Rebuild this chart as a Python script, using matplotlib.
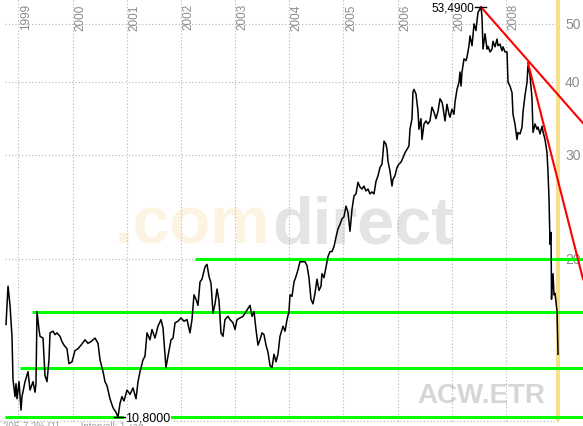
import matplotlib
matplotlib.use("Agg")
import matplotlib.pyplot as plt

plt.rcParams['font.family'] = ['Liberation Sans', 'DejaVu Sans']

# price path (decimal year, price in EUR)
dates = [
    1998.773, 1998.810, 1998.847, 1998.883, 1998.902, 1998.939, 1998.957, 1998.976,
    1999.013, 1999.050, 1999.068, 1999.124, 1999.179, 1999.216, 1999.271, 1999.308,
    1999.326, 1999.345, 1999.382, 1999.400, 1999.456, 1999.492, 1999.529, 1999.566,
    1999.585, 1999.640, 1999.677, 1999.714, 1999.769, 1999.806, 1999.843, 1999.898,
    1999.935, 1999.991, 2000.046, 2000.101, 2000.157, 2000.231, 2000.286, 2000.341,
    2000.415, 2000.471, 2000.508, 2000.563, 2000.600, 2000.637, 2000.692, 2000.747,
    2000.803, 2000.840, 2000.877, 2000.913, 2000.950, 2001.006, 2001.061, 2001.116,
    2001.172, 2001.209, 2001.246, 2001.301, 2001.338, 2001.375, 2001.430, 2001.467,
    2001.522, 2001.578, 2001.633, 2001.670, 2001.725, 2001.762, 2001.818, 2001.855,
    2001.892, 2001.947, 2002.002, 2002.058, 2002.113, 2002.168, 2002.205, 2002.242,
    2002.279, 2002.316, 2002.353, 2002.390, 2002.445, 2002.482, 2002.519, 2002.556,
    2002.593, 2002.630, 2002.667, 2002.704, 2002.740, 2002.777, 2002.814, 2002.870,
    2002.907, 2002.962, 2002.999, 2003.036, 2003.091, 2003.146, 2003.202, 2003.239,
    2003.276, 2003.313, 2003.350, 2003.386, 2003.423, 2003.460, 2003.497, 2003.534,
    2003.571, 2003.608, 2003.645, 2003.682, 2003.719, 2003.756, 2003.792, 2003.829,
    2003.885, 2003.922, 2003.959, 2003.995, 2004.014, 2004.051, 2004.088, 2004.125,
    2004.162, 2004.198, 2004.254, 2004.291, 2004.328, 2004.364, 2004.401, 2004.438,
    2004.475, 2004.512, 2004.549, 2004.586, 2004.604, 2004.641, 2004.678, 2004.715,
    2004.752, 2004.789, 2004.826, 2004.863, 2004.899, 2004.936, 2004.973, 2005.010,
    2005.047, 2005.084, 2005.121, 2005.158, 2005.195, 2005.232, 2005.268, 2005.305,
    2005.342, 2005.379, 2005.416, 2005.453, 2005.490, 2005.527, 2005.564, 2005.601,
    2005.638, 2005.675, 2005.712, 2005.749, 2005.786, 2005.804, 2005.822, 2005.859,
    2005.896, 2005.914, 2005.951, 2005.988, 2006.025, 2006.062, 2006.099, 2006.136,
    2006.173, 2006.209, 2006.228, 2006.265, 2006.283, 2006.302, 2006.339, 2006.376,
    2006.394, 2006.431, 2006.450, 2006.487, 2006.524, 2006.560, 2006.597, 2006.634,
    2006.671, 2006.708, 2006.745, 2006.782, 2006.819, 2006.837, 2006.874, 2006.911,
    2006.948, 2006.967, 2007.003, 2007.040, 2007.059, 2007.096, 2007.133, 2007.151,
    2007.170, 2007.188, 2007.225, 2007.262, 2007.280, 2007.317, 2007.336, 2007.373,
    2007.410, 2007.446, 2007.483, 2007.520, 2007.539, 2007.557, 2007.576, 2007.613,
    2007.650, 2007.668, 2007.705, 2007.742, 2007.760, 2007.797, 2007.834, 2007.852,
    2007.889, 2007.926, 2007.945, 2007.982, 2008.019, 2008.037, 2008.074, 2008.111,
    2008.129, 2008.166, 2008.203, 2008.222, 2008.259, 2008.296, 2008.314, 2008.351,
    2008.388, 2008.406, 2008.443, 2008.480, 2008.499, 2008.536, 2008.573, 2008.591,
    2008.628, 2008.665, 2008.683, 2008.720, 2008.757, 2008.775, 2008.794, 2008.812,
    2008.831, 2008.840, 2008.849, 2008.868, 2008.886, 2008.905, 2008.923, 2008.942,
    2008.960,
]
prices = [
    15.5, 18.0, 16.7, 14.8, 12.5, 11.7, 12.3, 11.6,
    12.4, 11.1, 11.7, 12.4, 12.9, 12.0, 12.4, 11.9,
    12.3, 16.3, 15.2, 14.8, 14.7, 12.7, 12.4, 13.5,
    15.0, 15.1, 14.9, 15.0, 14.8, 14.5, 14.3, 14.1,
    13.3, 13.4, 14.0, 14.1, 14.3, 14.6, 14.4, 14.5,
    14.7, 14.4, 13.5, 12.9, 12.4, 12.2, 11.6, 11.2,
    11.0, 10.8, 11.4, 11.7, 11.5, 12.0, 11.8, 12.1,
    11.6, 12.4, 12.9, 13.5, 13.7, 15.0, 14.6, 15.2,
    14.7, 15.4, 15.8, 15.3, 13.1, 13.7, 14.6, 14.7,
    15.6, 15.7, 15.9, 15.7, 15.8, 15.0, 15.8, 17.4,
    17.1, 16.7, 18.3, 18.5, 19.4, 19.6, 18.7, 18.2,
    16.2, 16.8, 17.8, 17.0, 15.0, 14.8, 15.8, 16.0,
    15.8, 15.6, 15.2, 15.8, 15.9, 16.0, 16.3, 16.5,
    16.7, 16.0, 16.3, 15.2, 14.3, 14.6, 15.0, 14.9,
    14.3, 13.9, 13.2, 13.1, 13.8, 13.4, 13.8, 14.8,
    15.4, 15.1, 15.8, 16.3, 17.4, 17.3, 18.3, 18.7,
    19.2, 19.8, 19.8, 19.8, 19.5, 18.6, 17.1, 16.8,
    17.5, 18.5, 17.7, 18.0, 18.9, 18.6, 19.4, 20.2,
    20.6, 20.6, 21.0, 21.8, 22.5, 22.9, 23.4, 23.6,
    24.6, 24.0, 22.3, 24.3, 25.6, 25.8, 27.0, 26.5,
    26.3, 26.6, 26.1, 26.3, 25.8, 26.0, 25.8, 27.1,
    27.7, 28.6, 29.0, 31.7, 31.3, 30.7, 29.3, 28.2,
    26.6, 27.3, 27.7, 28.6, 29.0, 29.2, 29.7, 30.3,
    30.7, 31.1, 33.2, 34.6, 38.4, 38.8, 38.1, 35.6,
    33.2, 34.6, 31.9, 33.9, 34.3, 33.9, 34.3, 36.2,
    35.5, 34.6, 35.6, 37.4, 36.9, 36.2, 34.3, 36.6,
    35.2, 34.8, 35.9, 35.2, 36.9, 38.8, 39.9, 41.5,
    39.3, 41.5, 43.7, 43.4, 44.0, 46.0, 47.8, 46.0,
    50.1, 48.8, 52.4, 53.1, 53.49, 51.5, 45.4, 48.2,
    45.4, 45.9, 44.9, 45.4, 46.8, 45.8, 47.2, 46.0,
    46.3, 45.1, 45.8, 44.9, 44.9, 39.9, 39.3, 38.3,
    35.2, 33.9, 31.9, 32.8, 32.6, 33.5, 35.5, 37.9,
    39.9, 42.6, 41.0, 37.4, 32.8, 33.9, 33.2, 33.5,
    32.6, 33.6, 32.9, 31.9, 30.3, 28.1, 25.3, 21.2,
    22.2, 17.1, 18.0, 18.9, 17.4, 17.5, 16.9, 16.3,
    13.8,
]

years = [1999, 2000, 2001, 2002, 2003, 2004, 2005, 2006, 2007, 2008]
y_ticks = [20, 30, 40, 50]

# support lines: level and start date
support_levels = [20.0, 16.3, 13.1, 10.8]
support_starts = [2002.26, 1999.25, 1999.03, 1998.75]

# trend lines: (start date, start price, end date, end price)
trend_lines = [
    (2007.539, 53.49, 2009.421, 34.0),
    (2008.406, 43.0, 2009.421, 18.5),
]

high_val = 53.49
low_val = 10.80
high_date = 2007.539
low_date = 2000.840

x0, x1 = 1998.662, 2009.421
y0, y1 = 10.43, 55.2
grid_right = 2008.92
grid_bottom = 10.63

fig = plt.figure(figsize=(5.83, 4.27), dpi=100)
ax = fig.add_axes([0, 0, 1, 1])
ax.set_yscale('log')
ax.set_xlim(x0, x1)
ax.set_ylim(y0, y1)
ax.axis('off')

grid_kw = dict(color='#b4b4b4', lw=0.8, linestyle=(0, (1, 2)), zorder=1)

# watermark
ax.text(2003.65, 21.36, '.com', fontsize=48, fontweight='bold',
        color='#fdf3e3', ha='right', va='baseline', zorder=0)
ax.text(2003.68, 21.36, 'direct', fontsize=48, fontweight='bold',
        color='#e4e4e4', ha='left', va='baseline', zorder=0)
ax.text(2008.72, 11.45, 'ACW.ETR', fontsize=20, fontweight='bold',
        color='#d6d6d6', ha='right', va='baseline', zorder=0)

# grid
ax.vlines(years, grid_bottom, y1, **grid_kw)
ax.hlines(y_ticks, 1998.75, grid_right, **grid_kw)
ax.hlines(grid_bottom, x0, grid_right + 0.07, **grid_kw)
ax.fill_between([2008.925, 2008.995], grid_bottom, y1, color='#f6e08c',
                lw=0, zorder=1)

for yr in years:
    ax.text(yr + 0.03, 54.3, str(yr), rotation=90, fontsize=8.5,
            color='#8a8a8a', ha='left', va='top', zorder=2)
for t in y_ticks:
    ax.text(2009.09, t, str(t), fontsize=10, color='#8a8a8a',
            ha='left', va='center', zorder=2)

# support lines
for lvl, st in zip(support_levels, support_starts):
    ax.plot([st, x1], [lvl, lvl], color='#00ff00', lw=2.2, zorder=3,
            solid_capstyle='butt')

# price
ax.plot(dates, prices, color='black', lw=1.1, zorder=4)

# trend lines
for d0, p0, d1, p1 in trend_lines:
    ax.plot([d0, d1], [p0, p1], color='#ff0000', lw=1.5, zorder=5)

# high / low markers
ax.plot([high_date - 0.12, high_date + 0.1], [high_val, high_val],
        color='black', lw=1, zorder=6)
ax.text(high_date - 0.13, high_val, '53,4900', fontsize=8.5, color='black',
        ha='right', va='center', zorder=6,
        bbox=dict(facecolor='white', edgecolor='none', pad=0.3))
ax.text(low_date + 0.13, low_val, '10,8000', fontsize=9, color='black',
        ha='left', va='center', zorder=6,
        bbox=dict(facecolor='white', edgecolor='none', pad=0.5))
ax.plot([low_date - 0.08, low_date + 0.12], [low_val, low_val],
        color='black', lw=1, zorder=7)

ax.text(1998.72, 10.62, '20Б 7,2% [1]        Intervall: 1 Tag', fontsize=7,
        color='#a0a0a0', ha='left', va='top', zorder=2)

fig.savefig('out.png', dpi=100)
